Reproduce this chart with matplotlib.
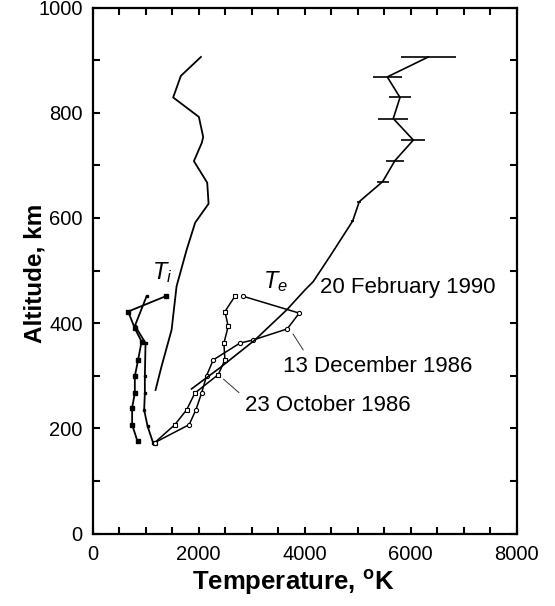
import matplotlib
matplotlib.use("Agg")
import matplotlib.pyplot as plt
from matplotlib.ticker import MultipleLocator

plt.rcParams['font.family'] = ['Liberation Sans', 'DejaVu Sans']
plt.rcParams['mathtext.fontset'] = 'custom'
plt.rcParams['mathtext.rm'] = 'Liberation Sans'
plt.rcParams['mathtext.it'] = 'Liberation Sans:italic'
plt.rcParams['mathtext.bf'] = 'Liberation Sans:bold'

# 1. Data
# Ion temperature, upper profile
ti_hi_T = [1189, 1302, 1491, 1585, 1774, 1936, 2189, 2163, 1912, 2062, 2087, 2006, 1521, 1666, 2044]
ti_hi_alt = [273, 318, 387, 470, 539, 591, 627, 667, 708, 743, 754, 792, 829, 870, 906]

# Ion temperature, lower profiles
ti_a_T = [849, 747, 747, 798, 798, 860, 925, 798, 672, 1377]
ti_a_alt = [175, 207, 239, 267, 299, 330, 365, 390, 422, 451]
ti_b_T = [1144, 1038, 974, 987, 987, 1000, 800, 1019]
ti_b_alt = [172, 204, 235, 267, 299, 362, 395, 451]

# Electron temperature
te_oct_T = [1176, 1553, 1774, 1930, 2370, 2497, 2478, 2559, 2497, 2685]
te_oct_alt = [173, 207, 235, 267, 302, 330, 362, 394, 422, 451]
te_dec_T = [1176, 1823, 1949, 2057, 2151, 2276, 2780, 3031, 3672, 3899, 2842]
te_dec_alt = [173, 207, 235, 267, 300, 330, 362, 368, 389, 419, 451]
te_feb_T = [1868, 2402, 3063, 3661, 4006, 4163, 4478, 4906, 5031, 5472, 5704, 6050, 5672, 5799, 5559, 6333]
te_feb_alt = [275, 315, 368, 425, 463, 479, 527, 594, 631, 669, 709, 748, 789, 829, 868, 906]
te_feb_err = [0, 0, 0, 0, 0, 0, 0, 25, 35, 116, 163, 229, 283, 204, 274, 519]

dates = ['20 February 1990', '13 December 1986', '23 October 1986']

# 2. Plot
fig = plt.figure(figsize=(5.55, 6.06), dpi=100)
ax = fig.add_axes([0.1667, 0.1196, 0.7643, 0.868])

ax.plot(ti_hi_T, ti_hi_alt, color='black', lw=1.3)
ax.plot(ti_a_T, ti_a_alt, color='black', lw=1.3, marker='s', ms=3)
ax.plot(ti_b_T, ti_b_alt, color='black', lw=1.3, marker='s', ms=2)
ax.plot(te_oct_T, te_oct_alt, color='black', lw=1.1, marker='s', ms=3.5, mfc='white', mew=0.8)
ax.plot(te_dec_T, te_dec_alt, color='black', lw=1.1, marker='o', ms=3, mfc='white', mew=0.8)
ax.errorbar(te_feb_T[7:], te_feb_alt[7:], xerr=te_feb_err[7:], fmt='none', ecolor='black', elinewidth=1.2, capsize=0)
ax.plot(te_feb_T, te_feb_alt, color='black', lw=1.2)

# labels with pointer lines
ax.text(4289, 468, dates[0], fontsize=16, ha='left', va='center')
ax.annotate(dates[1], xy=(te_dec_T[8] + 80, te_dec_alt[8] - 5), xytext=(3585, 317),
            fontsize=16, ha='left', va='center',
            arrowprops=dict(arrowstyle='-', lw=0.7, color='#333333', relpos=(0.13, 1.0), shrinkA=3, shrinkB=2))
ax.annotate(dates[2], xy=(te_oct_T[4] + 60, te_oct_alt[4] - 5), xytext=(2874, 244),
            fontsize=16, ha='left', va='center',
            arrowprops=dict(arrowstyle='-', lw=0.7, color='#333333', relpos=(0.0, 0.85), shrinkA=3, shrinkB=2))
ax.text(1308, 496, r'$T_i$', fontsize=17, ha='center', va='center')
ax.text(3459, 479, r'$T_e$', fontsize=17, ha='center', va='center')

ax.set_xlim(0, 8000)
ax.set_ylim(0, 1000)
ax.xaxis.set_major_locator(MultipleLocator(2000))
ax.xaxis.set_minor_locator(MultipleLocator(500))
ax.yaxis.set_major_locator(MultipleLocator(200))
ax.yaxis.set_minor_locator(MultipleLocator(100))
ax.tick_params(which='both', direction='in', top=True, right=True, length=5, width=1.5, labelsize=14.5)
ax.tick_params(axis='x', pad=8.5)
ax.tick_params(axis='y', pad=7)
for s in ax.spines.values():
    s.set_linewidth(1.6)

fig.text(0.528, 0.0388, r'Temperature, $^\mathbf{o}$K', fontsize=18.5, fontweight='bold', ha='center', va='center')
fig.text(0.063, 0.5495, 'Altitude, km', fontsize=17.5, fontweight='bold', ha='center', va='center', rotation=90)

fig.savefig('out.png', dpi=100)
